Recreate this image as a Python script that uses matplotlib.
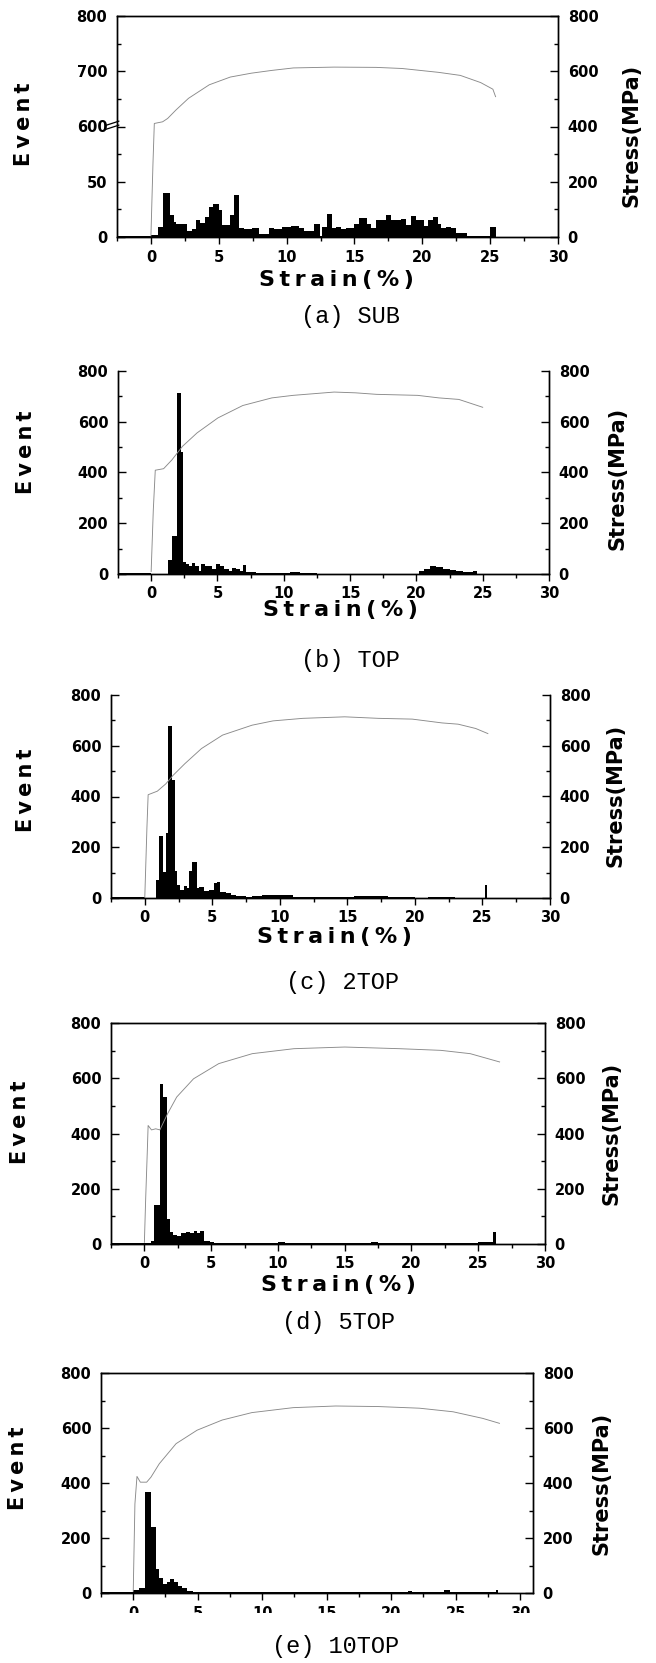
import numpy as np
import matplotlib.pyplot as plt
from matplotlib.patches import Rectangle

# ---- acoustic emission event histograms (bin edges in strain %, counts) ----
edges_a = [-2.5, 0, 0.55, 0.9, 1.43, 1.67, 1.87, 2.66, 3.0, 3.35, 3.65, 4.0, 4.3, 4.6, 5.0,
           5.25, 5.85, 6.15, 6.5, 6.85, 7.45, 7.95, 8.7, 9.06, 9.68, 10.3, 10.91, 11.28, 12.02,
           12.46, 12.64, 13.0, 13.37, 13.62, 13.99, 14.36, 14.98, 15.34, 15.96, 16.21, 16.58,
           16.95, 17.32, 17.68, 18.05, 18.42, 18.79, 19.16, 19.53, 19.78, 20.15, 20.44, 20.76,
           21.13, 21.38, 21.75, 22.12, 22.5, 23.3, 25.0, 25.4]
counts_a = [1, 1.5, 9, 40, 20, 14, 12, 5, 7, 15, 13, 18, 27, 30, 24, 11, 20, 38, 8, 7, 8, 3,
            8, 7, 9, 10, 8, 5, 12, 1, 9, 21, 8, 9, 7, 8, 12, 17, 12, 8, 15, 15, 20, 15, 15, 16,
            11, 19, 15, 15, 10, 15, 18, 12, 8, 9, 8, 4, 0.5, 9]

edges_b = [-2.4, 0, 1.29, 1.54, 1.98, 2.22, 2.41, 2.61, 2.85, 3.1, 3.34, 3.59, 3.78, 4.07,
           4.32, 4.56, 4.88, 5.2, 5.49, 5.85, 6.1, 6.41, 6.71, 6.9, 7.15, 7.32, 7.93, 8.29,
           9.15, 10.5, 11.2, 12.5, 20.2, 20.6, 21.0, 21.5, 22.0, 22.5, 23.0, 23.5, 24.3, 24.6]
counts_b = [3, 1, 55, 150, 712, 480, 46, 40, 30, 44, 30, 13, 41, 33, 30, 20, 38, 30, 20, 13,
            25, 20, 13, 36, 9, 6, 4, 2, 4, 9, 2, 1, 10, 20, 30, 28, 20, 15, 10, 6, 12]

edges_c = [-2.5, 0, 0.84, 1.04, 1.36, 1.58, 1.7, 1.98, 2.22, 2.42, 2.64, 2.89, 3.14, 3.31,
           3.5, 3.83, 4.0, 4.37, 4.74, 5.11, 5.36, 5.6, 5.98, 6.35, 6.72, 7.46, 7.95, 8.69,
           9.43, 10.0, 10.5, 11.0, 12.0, 14.0, 15.5, 16.0, 17.5, 18.0, 20.0, 21.0, 23.0,
           25.2, 25.3]
counts_c = [3, 1, 69, 245, 103, 255, 676, 464, 106, 53, 33, 49, 40, 106, 143, 40, 44, 27,
            33, 60, 64, 23, 20, 13, 7, 4, 7, 11, 10, 10, 12, 5, 3, 4, 8, 6, 9, 2, 1, 2, 1, 50]

edges_d = [-2.4, 0, 0.5, 0.75, 1.18, 1.43, 1.68, 1.93, 2.18, 2.43, 2.75, 3.13, 3.43, 3.68,
           3.93, 4.18, 4.5, 4.88, 5.25, 7.0, 10.0, 10.5, 17.0, 17.5, 23.0, 24.0, 25.0, 26.1,
           26.3]
counts_d = [4, 2, 12, 142, 579, 533, 91, 42, 33, 28, 40, 45, 40, 48, 40, 48, 12, 6, 5, 3, 6,
            3, 8, 2, 5, 2, 8, 42]

edges_e = [-2.45, 0, 0.44, 0.95, 1.41, 1.77, 2.03, 2.28, 2.62, 2.87, 3.13, 3.46, 3.77, 4.15,
           4.67, 5.56, 7.0, 21.3, 21.6, 24.1, 24.6, 28.1, 28.3]
counts_e = [2, 10, 17, 368, 240, 88, 54, 33, 41, 51, 39, 27, 17, 9, 5, 3, 2, 8, 2, 12, 2, 10]

# ---- stress-strain curves (strain %, stress MPa) ----
strain_a = [0, 0.15, 0.25, 0.86, 1.23, 1.85, 2.77, 4.3, 5.85, 7.4, 8.9, 10.5, 13.5, 16.6,
            18.5, 21.2, 22.8, 24.3, 25.2, 25.4]
stress_a = [4, 265, 411, 417, 429, 460, 502, 551, 579, 593, 603, 612, 615, 614, 610, 596,
            585, 559, 535, 508]

strain_b = [0, 0.16, 0.31, 0.94, 1.57, 2.36, 3.46, 5.03, 6.91, 9.1, 10.7, 13.8, 15.4, 17.0,
            20.1, 21.7, 23.2, 25.0]
stress_b = [10, 250, 409, 415, 450, 503, 556, 615, 664, 694, 704, 717, 714, 708, 704, 694,
            688, 657]

strain_c = [0, 0.16, 0.25, 0.93, 1.56, 2.09, 2.96, 4.2, 5.76, 7.94, 9.5, 11.7, 14.8, 17.3,
            19.8, 22.0, 23.2, 24.5, 25.4]
stress_c = [0, 278, 407, 421, 450, 483, 529, 589, 642, 681, 698, 708, 714, 708, 705, 690,
            685, 668, 648]

strain_d = [0, 0.1, 0.22, 0.28, 0.53, 0.85, 1.16, 1.73, 2.42, 3.68, 5.57, 8.08, 11.2, 15.0,
            19.1, 22.2, 24.4, 26.6]
stress_d = [6, 169, 338, 429, 413, 417, 413, 471, 532, 598, 653, 689, 707, 713, 707, 701,
            689, 659]

strain_e = [0, 0.13, 0.29, 0.55, 1.04, 1.37, 2.02, 3.32, 4.95, 6.9, 9.2, 12.4, 15.7, 19.0,
            22.2, 24.8, 27.1, 28.4]
stress_e = [6, 324, 424, 403, 403, 421, 470, 543, 592, 629, 656, 674, 680, 678, 672, 659,
            635, 617]

captions = ['(a) SUB', '(b) TOP', '(c) 2TOP', '(d) 5TOP', '(e) 10TOP']
x_ticks = [0, 5, 10, 15, 20, 25, 30]
stress_ticks = [0, 200, 400, 600, 800]
event_ticks = [0, 200, 400, 600, 800]
event_ticks_a = [0, 50, 600, 700, 800]   # broken axis in panel (a)

W, H = 656, 1663
plt.rcParams['font.family'] = 'DejaVu Sans'
plt.rcParams['font.weight'] = 'bold'
fig = plt.figure(figsize=(W / 100, H / 100), dpi=100)

TS = '\u2009'  # thin space, the scan's labels are letter-spaced


def spaced(s):
    return TS.join(s)


def fx(x):
    return x / W


def fy(y):
    return 1 - y / H


def fwd(v):
    v = np.asarray(v, dtype=float)
    return np.where(v <= 100, v, np.where(v < 600, 100.0, 100 + (v - 600) / 2))


def inv(y):
    y = np.asarray(y, dtype=float)
    return np.where(y <= 100, y, 600 + (y - 100) * 2)


# layout in pixels: axes box, x-range, caption/label positions
layout = [
    dict(box=(117, 16, 558, 237), xlim=(-2.5, 30), top=True, xlab=(336, 280), cap=(350, 317),
         ev=(24, 124), st=(631, 135)),
    dict(box=(118, 371, 549, 574), xlim=(-2.4, 30), top=False, xlab=(340, 610), cap=(350, 660),
         ev=(26, 452), st=(618, 478)),
    dict(box=(111, 695, 550, 898), xlim=(-2.5, 30), top=False, xlab=(334, 937), cap=(342, 982),
         ev=(26, 790), st=(616, 795)),
    dict(box=(111, 1023, 545, 1244), xlim=(-2.45, 30), top=True, xlab=(338, 1285), cap=(338, 1322),
         ev=(20, 1122), st=(612, 1133)),
    dict(box=(101, 1373, 533, 1593), xlim=(-2.45, 31), top=True, xlab=None, cap=(336, 1646),
         ev=(18, 1468), st=(601, 1483)),
]
all_edges = [edges_a, edges_b, edges_c, edges_d, edges_e]
all_counts = [counts_a, counts_b, counts_c, counts_d, counts_e]
all_strain = [strain_a, strain_b, strain_c, strain_d, strain_e]
all_stress = [stress_a, stress_b, stress_c, stress_d, stress_e]

for k, lay in enumerate(layout):
    l, t, r, b = lay['box']
    ax = fig.add_axes([fx(l), fy(b), (r - l) / W, (b - t) / H])
    ax.stairs(all_counts[k], all_edges[k], fill=True, color='black', linewidth=0)
    ax.set_xlim(*lay['xlim'])

    if k == 0:
        ax.set_yscale('function', functions=(fwd, inv))
        ax.set_ylim(0, 800)
        ax.set_yticks(event_ticks_a)
        ax.set_yticks([25, 75, 650, 750], minor=True)
        # break marks on the left spine
        for dy in (0.0, 0.018):
            ax.plot([-0.024, 0.004], [0.488 + dy, 0.506 + dy], transform=ax.transAxes,
                    color='black', lw=0.9, clip_on=False)
    else:
        ax.set_ylim(0, 800)
        ax.set_yticks(event_ticks)
        ax.set_yticks([100, 300, 500, 700], minor=True)

    ax.set_xticks(x_ticks)
    ax.set_xticks(np.arange(-2.5, 30.1, 5), minor=True)

    ax2 = ax.twinx()
    ax2.plot(all_strain[k], all_stress[k], color='#8a8a8a', lw=0.65)
    ax2.set_ylim(0, 800)
    ax2.set_yticks(stress_ticks)
    ax2.set_yticks([100, 300, 500, 700], minor=True)

    for a in (ax, ax2):
        for sp in a.spines.values():
            sp.set_linewidth(1.0)
        a.spines['top'].set_visible(lay['top'])
    ax.tick_params(axis='y', which='major', direction='in', length=6, width=1,
                   labelsize=10.5, pad=7)
    ax.tick_params(axis='y', which='minor', direction='in', length=3, width=1)
    ax.tick_params(axis='x', which='major', direction='out', length=5, width=1,
                   labelsize=10.5, pad=4)
    ax.tick_params(axis='x', which='minor', direction='out', length=3, width=1)
    ax2.tick_params(axis='y', which='major', direction='in', length=6, width=1,
                    labelsize=10.5, pad=7)
    ax2.tick_params(axis='y', which='minor', direction='in', length=3, width=1)

    fig.text(fx(lay['ev'][0]), fy(lay['ev'][1]), spaced('Event'), rotation=90, ha='center',
             va='center', fontsize=15)
    fig.text(fx(lay['st'][0]), fy(lay['st'][1]), 'Stress(MPa)', rotation=90, ha='center',
             va='center', fontsize=15)
    if lay['xlab'] is not None:
        fig.text(fx(lay['xlab'][0]), fy(lay['xlab'][1]), spaced('Strain(%)'), ha='center',
                 va='center', fontsize=16)
    fig.text(fx(lay['cap'][0]), fy(lay['cap'][1]), captions[k], ha='center', va='center',
             fontsize=17, fontweight='normal', family='Liberation Mono')

# the scan cuts the lower half of the last panel's tick labels
fig.add_artist(Rectangle((0, fy(1634)), 1, (1634 - 1613) / H, transform=fig.transFigure,
                         facecolor='white', edgecolor='none', zorder=10))

fig.savefig('out.png', dpi=100, facecolor='white')
